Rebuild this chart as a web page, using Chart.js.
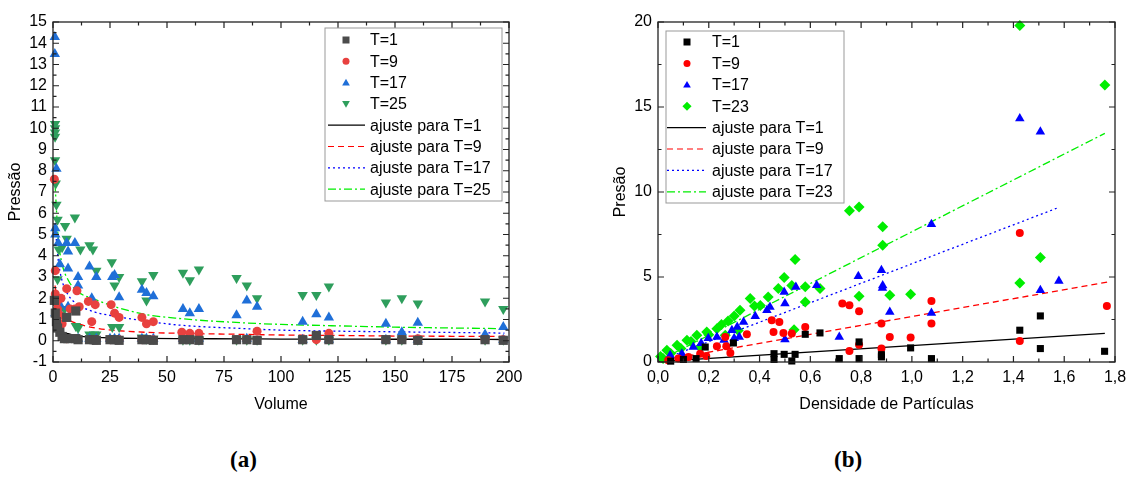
<!DOCTYPE html>
<html>
<head>
<meta charset="utf-8">
<script src="https://cdn.jsdelivr.net/npm/chart.js@4.4.1/dist/chart.umd.min.js"></script>
<style>
  body { margin: 0; background: #fff; width: 1134px; height: 481px; position: relative; overflow: hidden; }
  .box { position: absolute; top: 0; height: 420px; }
  .cap { position: absolute; top: 447px; font: bold 23px "Liberation Serif", serif; color: #000; }
</style>
</head>
<body>
<div class="box" style="left:0;width:540px"><canvas id="chartA" width="540" height="420"></canvas></div>
<div class="box" style="left:580px;width:554px"><canvas id="chartB" width="554" height="420"></canvas></div>
<div class="cap" style="left:230px">(a)</div>
<div class="cap" style="left:834px">(b)</div>
<script>
// (a) Pressão x Volume
const volT1 = [0.6, 1, 1.5, 2, 3, 4, 5, 6, 6.5, 10, 10, 11, 16, 18, 19, 25, 27, 29, 39, 41, 44, 57, 60, 64, 80.5, 85, 89.5, 109.5, 115.5, 121, 146, 153, 160, 189.5, 197.5];
const presT1 = [1.9, 1.3, 0.9, 0.6, 0.4, 0.2, 0.1, 1.1, 0.1, 1.4, 0.1, 0.05, 0.05, 0.05, 0.02, 0.05, 0.05, 0.02, 0.05, 0.05, 0.02, 0.05, 0.05, 0.02, 0.05, 0.05, 0.02, 0.05, 0.25, 0.05, 0.05, 0.05, 0.02, 0.05, 0.02];

const volT9 = [0.6, 1, 1, 1.5, 2, 3, 3.5, 4, 6, 6, 7.5, 9.6, 10.5, 11.5, 10, 15.5, 17, 18.5, 19, 25.5, 25, 27, 29, 29, 39, 39, 41, 44, 44, 56.5, 57, 60, 64, 80.5, 85, 89.5, 109.5, 115.5, 121, 146, 153, 160, 189.5, 197.5];
const presT9 = [7.6, 3.3, 2.2, 1.8, 1.5, 1.2, 2.0, 0.8, 2.45, 0.1, 1.5, 1.5, 2.35, 1.6, 0.1, 1.85, 0.9, 1.7, 0.05, 1.7, 0.05, 1.3, 1.1, 0.05, 1.1, 0.05, 0.8, 0.9, 0.05, 0.4, 0.05, 0.35, 0.35, 0.05, 0.05, 0.45, 0.05, 0.05, 0.35, 0.05, 0.05, 0.1, 0.05, 0.05];

const volT17 = [0.8, 0.8, 1.5, 1, 1, 2.3, 6, 9.6, 6.6, 3, 6.6, 11, 16, 19, 26, 27, 29, 39, 41, 44, 57, 60, 64, 80.5, 85, 89.5, 6.6, 11, 17, 109.5, 115.5, 121, 146, 153, 160, 189.5, 197.5, 1, 2, 3, 11, 16, 19, 25, 27, 29, 39, 41, 44, 57, 60, 64, 85, 109.5, 121, 146, 160, 197.5];
const presT17 = [14.3, 13.5, 8.1, 5.3, 5.0, 4.6, 4.6, 4.6, 4.2, 3.6, 3.4, 3.0, 3.5, 3.0, 3.0, 3.1, 2.05, 2.4, 2.25, 2.1, 1.5, 1.3, 1.5, 1.2, 1.9, 1.6, 1.6, 2.6, 2.0, 0.9, 1.25, 1.1, 0.8, 0.4, 0.85, 0.3, 0.65, 1.3, 1.5, 1.7, 0.1, 0.1, 0.1, 0.1, 0.1, 0.1, 0.1, 0.1, 0.1, 0.1, 0.1, 0.1, 0.1, 0.05, 0.05, 0.05, 0.05, 0.05];

const volT25 = [0.9, 0.9, 0.9, 0.9, 0.9, 1.2, 1.5, 2, 5.3, 9.6, 6, 2.5, 4, 12, 16, 17.5, 25.8, 19, 29, 27, 39, 44, 41, 57, 60, 64, 80.5, 85, 89.5, 109.5, 115.5, 121, 146, 153, 160, 189.5, 197.5, 26, 29, 2, 3, 5, 10, 11, 16, 18, 19, 39, 41, 44, 57, 60, 64, 80.5, 85, 89.5, 109.5, 115.5, 121, 146, 153, 160, 189.5, 197.5];
const presT25 = [10.2, 10.0, 9.8, 9.6, 8.5, 7.4, 6.4, 5.7, 5.4, 5.8, 4.8, 4.3, 4.4, 4.3, 4.5, 4.3, 3.7, 3.3, 3.0, 2.6, 2.8, 3.1, 1.9, 3.2, 2.85, 3.35, 2.95, 2.6, 2.0, 2.15, 2.15, 2.55, 1.8, 2.0, 1.75, 1.85, 1.5, 0.65, 0.65, 2.9, 2.0, 1.5, 0.7, 0.6, 0.3, 0.3, 0.3, 0.15, 0.1, 0.1, 0.05, 0.05, 0.05, 0.05, 0.05, 0.05, 0.05, 0.05, 0.05, 0.05, 0.05, 0.05, 0.05, 0.05];

// fitted curves
const fitVol = [0.9, 1.6, 2.3, 3.8, 6.7, 11, 18.4, 25.7, 40, 55, 84, 100, 125, 150, 175, 198];
const fitT1 = [0.95, 0.75, 0.6, 0.45, 0.33, 0.22, 0.16, 0.13, 0.11, 0.1, 0.09, 0.08, 0.08, 0.07, 0.07, 0.06];
const fitT9 = [2.6, 2.0, 1.6, 1.3, 1.0, 0.8, 0.6, 0.5, 0.4, 0.35, 0.3, 0.27, 0.25, 0.22, 0.21, 0.2];
const fitT17 = [5.5, 4.6, 3.8, 2.9, 2.15, 1.7, 1.35, 1.18, 0.94, 0.74, 0.57, 0.5, 0.45, 0.42, 0.39, 0.36];
const fitT25 = [7.4, 6.0, 4.8, 3.7, 2.85, 2.3, 1.95, 1.65, 1.25, 1.05, 0.84, 0.77, 0.7, 0.64, 0.6, 0.57];

const volTicks = [0, 25, 50, 75, 100, 125, 150, 175, 200];
const presTicksA = [-1, 0, 1, 2, 3, 4, 5, 6, 7, 8, 9, 10, 11, 12, 13, 14, 15];

// (b) Pressão x Densidade
const densT1 = [1.506, 1.425, 1.506, 1.759, 0.995, 0.88, 0.88, 1.077, 0.792, 0.792, 0.714, 0.638, 0.58, 0.457, 0.457, 0.497, 0.54, 0.527, 0.297, 0.186, 0.15, 0.1, 0.05];
const presBT1 = [2.71, 1.87, 0.79, 0.63, 0.83, 0.43, 0.3, 0.2, 1.18, 0.2, 0.2, 1.71, 1.63, 0.49, 0.15, 0.45, 0.45, 0.06, 1.12, 0.88, 0.2, 0.15, 0.05];

const densT9 = [1.425, 1.768, 1.077, 0.88, 1.077, 0.913, 0.995, 0.88, 1.425, 0.726, 0.754, 0.792, 0.58, 0.448, 0.478, 0.455, 0.494, 0.527, 0.35, 0.265, 0.232, 0.269, 0.285, 0.754, 0.792, 0.166, 0.19, 0.12, 0.08, 0.04];
const presBT9 = [7.59, 3.3, 3.59, 2.26, 2.26, 1.47, 1.44, 0.79, 1.24, 3.44, 3.34, 2.98, 2.06, 2.45, 2.36, 1.77, 1.71, 1.67, 1.63, 1.47, 0.92, 0.92, 0.53, 0.65, 1.02, 0.49, 0.35, 0.3, 0.2, 0.1];

const densT17 = [1.425, 1.506, 1.077, 0.88, 0.885, 1.579, 1.506, 0.913, 1.077, 0.789, 0.884, 0.714, 0.625, 0.543, 0.497, 0.5, 0.441, 0.429, 0.383, 0.337, 0.312, 0.291, 0.232, 0.198, 0.5, 0.32, 0.3, 0.139, 0.094, 0.048, 0.26, 0.17];
const presBT17 = [14.33, 13.54, 8.1, 5.4, 4.5, 4.77, 4.22, 2.94, 2.88, 5.04, 4.35, 1.47, 4.51, 4.41, 4.12, 3.44, 3.24, 3.04, 2.69, 2.36, 2.06, 1.87, 1.47, 1.39, 1.32, 1.47, 1.4, 0.88, 0.49, 0.39, 1.3, 1.1];

const densT23 = [1.425, 1.76, 0.885, 0.885, 1.506, 1.425, 0.913, 0.995, 0.754, 0.792, 0.792, 0.54, 0.497, 0.58, 0.638, 0.58, 0.536, 0.363, 0.403, 0.474, 0.527, 0.434, 0.323, 0.276, 0.232, 0.192, 0.153, 0.114, 0.075, 0.035, 0.01, 0.316, 0.265, 0.166, 0.3, 0.25, 0.2, 0.13, 0.09, 0.05, 0.02, 0.38];
const presBT23 = [19.8, 16.3, 7.95, 6.87, 6.15, 4.65, 3.93, 3.98, 8.89, 9.12, 3.87, 6.03, 4.97, 4.42, 4.32, 3.53, 1.9, 3.73, 3.33, 4.33, 4.5, 3.82, 3.04, 2.41, 1.96, 1.77, 1.57, 1.28, 0.98, 0.69, 0.33, 1.86, 1.57, 0.88, 2.7, 2.2, 1.6, 1.2, 0.8, 0.5, 0.2, 3.3];

// linear fits (end points)
const fitDensT1 = [0, 1.76], fitPresT1 = [0.02, 1.68];
const fitDensT9 = [0, 1.77], fitPresT9 = [0.05, 4.7];
const fitDensT17 = [0, 1.58], fitPresT17 = [0.05, 9.1];
const fitDensT23 = [0, 1.76], fitPresT23 = [0.05, 13.45];

const densTicks = [0, 0.2, 0.4, 0.6, 0.8, 1.0, 1.2, 1.4, 1.6, 1.8];
const presTicksB = [0, 5, 10, 15, 20];

Chart.defaults.font.family = '"Liberation Sans", Arial, sans-serif';
Chart.defaults.font.size = 16;
Chart.defaults.color = '#000';
Chart.defaults.animation = false;

const pts = (xs, ys) => xs.map((x, i) => ({ x: x, y: ys[i] }));

function marker(ctx, style, x, y, r) {
  ctx.beginPath();
  if (style === 'rect') {
    ctx.rect(x - r, y - r, 2 * r, 2 * r);
  } else if (style === 'circle') {
    ctx.arc(x, y, r, 0, Math.PI * 2);
  } else if (style === 'triangle') {
    ctx.moveTo(x, y - r * 1.1); ctx.lineTo(x + r * 1.1, y + r * 0.8); ctx.lineTo(x - r * 1.1, y + r * 0.8);
  } else if (style === 'down') {
    ctx.moveTo(x, y + r * 1.1); ctx.lineTo(x + r * 1.1, y - r * 0.8); ctx.lineTo(x - r * 1.1, y - r * 0.8);
  } else if (style === 'rectRot') {
    ctx.moveTo(x, y - r * 1.3); ctx.lineTo(x + r * 1.3, y); ctx.lineTo(x, y + r * 1.3); ctx.lineTo(x - r * 1.3, y);
  }
  ctx.closePath();
  ctx.fill();
}

// box with inward ticks
const framePlugin = {
  id: 'frame',
  afterDatasetsDraw(chart) {
    const { ctx, chartArea: a } = chart;
    ctx.save();
    ctx.strokeStyle = '#222';
    ctx.lineWidth = 1.3;
    ctx.strokeRect(a.left, a.top, a.right - a.left, a.bottom - a.top);
    ctx.lineWidth = 1.2;
    ['x', 'y'].forEach(id => {
      const s = chart.scales[id];
      const vals = s.ticks.map(t => t.value);
      const marks = [];
      vals.forEach((v, i) => {
        marks.push([v, 6]);
        if (i < vals.length - 1) marks.push([(v + vals[i + 1]) / 2, 3.5]);
      });
      marks.forEach(([v, len]) => {
        const p = s.getPixelForValue(v);
        ctx.beginPath();
        if (id === 'x') {
          ctx.moveTo(p, a.bottom); ctx.lineTo(p, a.bottom - len);
          ctx.moveTo(p, a.top); ctx.lineTo(p, a.top + len);
        } else {
          ctx.moveTo(a.left, p); ctx.lineTo(a.left + len, p);
          ctx.moveTo(a.right, p); ctx.lineTo(a.right - len, p);
        }
        ctx.stroke();
      });
    });
    ctx.restore();
  },
  afterDraw(chart, args, opts) {
    const { ctx } = chart;
    const lg = opts.legend;
    if (!lg) return;
    ctx.save();
    ctx.strokeStyle = '#999';
    ctx.lineWidth = 1;
    ctx.strokeRect(lg.x, lg.y, lg.w, lg.h);
    ctx.font = '16px "Liberation Sans", Arial, sans-serif';
    ctx.textBaseline = 'middle';
    chart.data.datasets.forEach((ds, i) => {
      const cy = lg.row0 + i * lg.step;
      if (ds.showLine) {
        ctx.strokeStyle = ds.borderColor;
        ctx.lineWidth = 1.2;
        ctx.setLineDash(ds.borderDash || []);
        ctx.beginPath();
        ctx.moveTo(lg.line0, cy); ctx.lineTo(lg.line1, cy);
        ctx.stroke();
        ctx.setLineDash([]);
      } else {
        ctx.fillStyle = ds.backgroundColor;
        marker(ctx, ds.legendStyle, lg.sym, cy, lg.r);
      }
      ctx.fillStyle = '#000';
      ctx.fillText(ds.label, lg.text, cy + 1);
    });
    ctx.restore();
  }
};

function scatterSet(label, xs, ys, color, style, r, rot) {
  return {
    label: label, data: pts(xs, ys), backgroundColor: color, borderColor: color,
    pointStyle: style === 'down' ? 'triangle' : style, rotation: rot || 0,
    legendStyle: style, pointRadius: r, borderWidth: 0, showLine: false, clip: false
  };
}
function fitSet(label, xs, ys, color, dash, smooth) {
  return {
    label: label, data: pts(xs, ys), borderColor: color, backgroundColor: color,
    borderDash: dash, borderWidth: 1.3, pointRadius: 0, showLine: true,
    tension: smooth ? 0.4 : 0, cubicInterpolationMode: smooth ? 'monotone' : 'default'
  };
}

function axes(xmin, xmax, xstep, ymin, ymax, ystep, yw, xTitle, yTitle, yPad, fmt) {
  return {
    x: {
      type: 'linear', min: xmin, max: xmax,
      ticks: { stepSize: xstep, autoSkip: false, padding: 6, maxRotation: 0, callback: fmt },
      grid: { display: false, drawTicks: false }, border: { display: false },
      title: { display: true, text: xTitle, padding: { top: 0, bottom: 6 }, font: { size: 16 } },
      afterFit: s => { s.height = 58; }
    },
    y: {
      type: 'linear', min: ymin, max: ymax,
      ticks: { stepSize: ystep, autoSkip: false, padding: 6 },
      grid: { display: false, drawTicks: false }, border: { display: false },
      title: { display: true, text: yTitle, padding: { top: yPad, bottom: 0 }, font: { size: 16 } },
      afterFit: s => { s.width = yw; }
    }
  };
}

new Chart(document.getElementById('chartA'), {
  type: 'scatter',
  data: {
    datasets: [
      scatterSet('T=1', volT1, presT1, '#4b4b4b', 'rect', 6.5),
      scatterSet('T=9', volT9, presT9, '#e8413f', 'circle', 4.5),
      scatterSet('T=17', volT17, presT17, '#1f6fd8', 'triangle', 6),
      scatterSet('T=25', volT25, presT25, '#2e9e5c', 'down', 6, 180),
      fitSet('ajuste para T=1', fitVol, fitT1, '#000000', [], true),
      fitSet('ajuste para T=9', fitVol, fitT9, '#ff0000', [6, 4], true),
      fitSet('ajuste para T=17', fitVol, fitT17, '#0000ff', [2, 3], true),
      fitSet('ajuste para T=25', fitVol, fitT25, '#00ee00', [8, 3, 2, 3], true)
    ]
  },
  options: {
    responsive: false,
    layout: { padding: { top: 22, right: 31, left: 0, bottom: 0 } },
    plugins: {
      legend: { display: false }, tooltip: { enabled: false },
      frame: { legend: { x: 325, y: 28, w: 177, h: 173, row0: 40, step: 21.3, sym: 346, r: 3.5, line0: 328, line1: 365, text: 370 } }
    },
    scales: axes(volTicks[0], volTicks[volTicks.length - 1], 25,
      presTicksA[0], presTicksA[presTicksA.length - 1], 1, 53, 'Volume', 'Pressão', 6)
  },
  plugins: [framePlugin]
});

new Chart(document.getElementById('chartB'), {
  type: 'scatter',
  data: {
    datasets: [
      scatterSet('T=1', densT1, presBT1, '#000000', 'rect', 5),
      scatterSet('T=9', densT9, presBT9, '#ff0000', 'circle', 4),
      scatterSet('T=17', densT17, presBT17, '#0000ff', 'triangle', 5.5),
      scatterSet('T=23', densT23, presBT23, '#00ee00', 'rectRot', 5.5),
      fitSet('ajuste para T=1', fitDensT1, fitPresT1, '#000000', [], false),
      fitSet('ajuste para T=9', fitDensT9, fitPresT9, '#ff0000', [6, 4], false),
      fitSet('ajuste para T=17', fitDensT17, fitPresT17, '#0000ff', [2, 3], false),
      fitSet('ajuste para T=23', fitDensT23, fitPresT23, '#00ee00', [8, 3, 2, 3], false)
    ]
  },
  options: {
    responsive: false,
    layout: { padding: { top: 22, right: 19, left: 0, bottom: 0 } },
    plugins: {
      legend: { display: false }, tooltip: { enabled: false },
      frame: { legend: { x: 86, y: 31, w: 178, h: 172, row0: 42, step: 21.4, sym: 107, r: 3.5, line0: 87, line1: 126, text: 132 } }
    },
    scales: axes(densTicks[0], densTicks[densTicks.length - 1], 0.2,
      presTicksB[0], presTicksB[presTicksB.length - 1], 5, 78, 'Densidade de Partículas', 'Presão', 31,
      v => v.toFixed(1).replace('.', ','))
  },
  plugins: [framePlugin]
});
</script>
</body>
</html>
